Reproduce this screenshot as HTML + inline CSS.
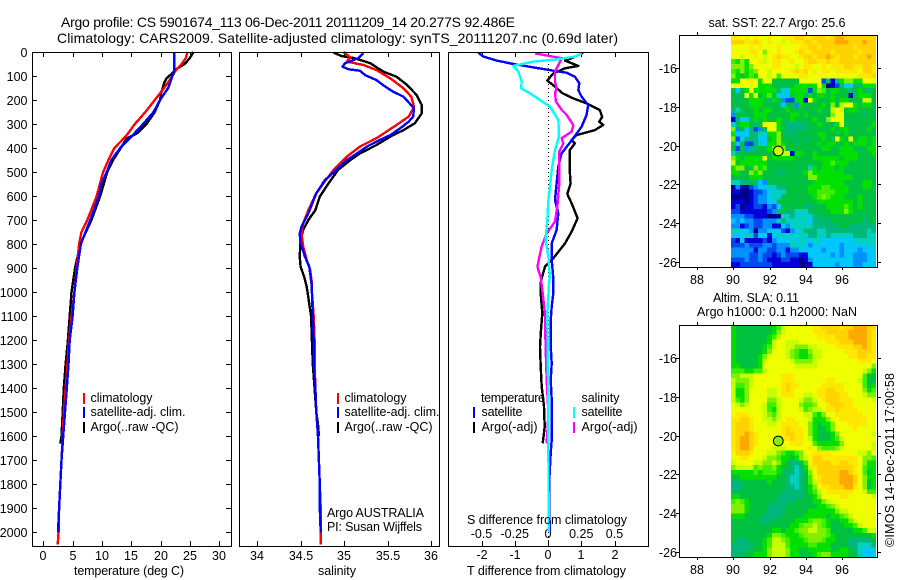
<!DOCTYPE html>
<html>
<head>
<meta charset="utf-8">
<title>Argo profile</title>
<style>
html,body{margin:0;padding:0;background:#fff;}
svg{display:block;}
text{font-family:"Liberation Sans",sans-serif;font-size:12.5px;fill:#000;}
.title{font-size:14px;}
</style>
</head>
<body>
<svg id="chart" xmlns="http://www.w3.org/2000/svg" width="900" height="580" viewBox="0 0 900 580">
  <rect x="0" y="0" width="900" height="580" fill="#fff"/>
  <text class="title" x="61" y="27" textLength="454">Argo profile: CS 5901674_113 06-Dec-2011 20111209_14 20.277S 92.486E</text>
  <text class="title" x="57" y="43" textLength="561">Climatology: CARS2009. Satellite-adjusted climatology: synTS_20111207.nc (0.69d later)</text>

  <g id="p1"></g>
  <g id="p2"></g>
  <g id="p3"></g>
  <g id="m1"></g>
  <g id="m2"></g>

  <text x="74" y="575" textLength="110">temperature (deg C)</text>
  <text x="318" y="575" textLength="38">salinity</text>
  <text x="467" y="575" textLength="159">T difference from climatology</text>
  <text x="467" y="524" textLength="160">S difference from climatology</text>

  <g>
    <rect x="83" y="393" width="2" height="11" fill="#f00"/>
    <rect x="83" y="407" width="2" height="11" fill="#00f"/>
    <rect x="83" y="422" width="2" height="11" fill="#000"/>
    <text x="90.5" y="402" textLength="62">climatology</text>
    <text x="90.5" y="416" textLength="95">satellite-adj. clim.</text>
    <text x="90.5" y="431" textLength="88">Argo(..raw -QC)</text>
  </g>
  <g>
    <rect x="337" y="393" width="2" height="11" fill="#f00"/>
    <rect x="337" y="407" width="2" height="11" fill="#00f"/>
    <rect x="337" y="422" width="2" height="11" fill="#000"/>
    <text x="344.5" y="402" textLength="62">climatology</text>
    <text x="344.5" y="416" textLength="95">satellite-adj. clim.</text>
    <text x="344.5" y="431" textLength="88">Argo(..raw -QC)</text>
    <text x="327" y="517" textLength="97">Argo AUSTRALIA</text>
    <text x="327" y="531" textLength="95">PI: Susan Wijffels</text>
  </g>
  <g>
    <text x="481" y="402" textLength="64">temperature</text>
    <rect x="473" y="407" width="2" height="11" fill="#00f"/>
    <rect x="473" y="422" width="2" height="11" fill="#000"/>
    <text x="481.5" y="416" textLength="41">satellite</text>
    <text x="481.5" y="431" textLength="56">Argo(-adj)</text>
    <text x="581.5" y="402" textLength="38">salinity</text>
    <rect x="573" y="407" width="2" height="11" fill="#0ff"/>
    <rect x="573" y="422" width="2" height="11" fill="#f0f"/>
    <text x="581.5" y="416" textLength="41">satellite</text>
    <text x="581.5" y="431" textLength="56">Argo(-adj)</text>
  </g>

  <text x="777" y="27" text-anchor="middle" textLength="137">sat. SST: 22.7  Argo: 25.6</text>
  <text x="756" y="302" text-anchor="middle" textLength="86">Altim. SLA: 0.11</text>
  <text x="777" y="316" text-anchor="middle" textLength="160">Argo h1000: 0.1 h2000: NaN</text>
  <text transform="translate(894,547) rotate(-90)" x="0" y="0" textLength="174">©IMOS 14-Dec-2011 17:00:58</text>
</svg>

<script>
// ---------- axis tick data ----------
const depthTicks = [0,100,200,300,400,500,600,700,800,900,1000,1100,1200,1300,1400,1500,1600,1700,1800,1900,2000];
const tempTicks = [0,5,10,15,20,25,30];
const salTicks = [34,34.5,35,35.5,36];
const tDiffTicks = [-2,-1,0,1,2];
const tDiffLabels = ['-2','-1','0','1','2'];
const sDiffTicks = [-0.5,-0.25,0,0.25,0.5];
const sDiffLabels = ['-0.5','-0.25','0','0.25','0.5'];
const lonTicks = [88,90,92,94,96];
const latTicks = [-16,-18,-20,-22,-24,-26];

// ---------- temperature profiles ----------
const tempClimDepth = [0,25,50,75,100,150,200,250,300,350,400,450,500,600,700,750,800,900,1000,1100,1200,1300,1400,1500,1600,1700,1800,1900,2000,2050];
const tempClim = [24.6,24.3,23.6,22.6,22.0,20.6,19.0,17.4,15.6,14.1,12.1,11.1,10.2,9.1,7.5,6.5,6.1,5.7,5.3,4.8,4.4,4.1,3.8,3.5,3.3,3.1,2.9,2.7,2.6,2.45];
const tempSatDepth = [0,80,100,150,200,250,300,350,400,450,500,550,600,700,800,900,1000,1100,1200,1300,1400,1500,1600,1700,1800,1900,2000];
const tempSat = [22.3,22.3,22.0,21.3,19.9,18.8,17.0,15.1,13.1,11.6,10.8,9.9,9.5,8.0,6.4,5.8,5.3,5.0,4.5,4.3,4.0,3.7,3.4,3.1,2.9,2.7,2.5];
const tempArgoDepth = [0,25,50,70,90,110,130,170,200,250,300,340,360,400,450,500,600,700,800,900,1000,1100,1200,1300,1400,1500,1600,1630];
const tempArgo = [25.6,25.0,24.1,22.7,21.9,21.0,20.6,20.1,19.9,19.0,17.6,15.9,14.2,13.2,11.9,10.9,9.7,8.2,6.3,5.4,4.8,4.5,4.2,3.8,3.5,3.3,3.1,2.9];

// ---------- salinity profiles ----------
const salClimDepth = [0,22,40,54,75,110,151,186,228,269,304,359,394,436,491,547,595,658,713,755,810,866,908,963,1000,1100,1200,1300,1400,1500,1600,1700,1800,1900,2000,2050];
const salClim = [34.99,35.07,35.03,35.22,35.37,35.53,35.68,35.77,35.80,35.74,35.60,35.37,35.18,35.03,34.88,34.76,34.67,34.59,34.53,34.51,34.53,34.57,34.61,34.63,34.63,34.65,34.66,34.66,34.67,34.68,34.70,34.71,34.72,34.73,34.73,34.73];
const salSatDepth = [4,26,47,61,72,78,96,117,144,165,186,214,235,269,290,318,346,366,394,429,450,491,533,588,672,727,755,797,852,894,977,1000,1100,1200,1300,1400,1500,1600,1700,1800,1900,2000];
const salSat = [35.22,35.16,35.01,34.98,35.05,35.18,35.24,35.37,35.47,35.56,35.68,35.75,35.80,35.79,35.74,35.64,35.53,35.41,35.26,35.12,35.03,34.91,34.78,34.68,34.59,34.51,34.49,34.50,34.55,34.60,34.63,34.63,34.64,34.65,34.65,34.67,34.68,34.70,34.71,34.72,34.72,34.73];
const salArgoDepth = [3,17,26,47,82,103,137,179,221,255,297,325,346,387,422,450,491,547,602,658,699,741,783,852,894,935,977,1000,1050,1100,1200,1300,1400,1500,1550,1600];
const salArgo = [34.88,34.97,35.12,35.30,35.45,35.60,35.72,35.83,35.89,35.89,35.81,35.68,35.56,35.37,35.18,35.07,34.93,34.82,34.72,34.67,34.59,34.53,34.50,34.49,34.50,34.54,34.57,34.58,34.60,34.62,34.63,34.64,34.66,34.68,34.70,34.71];

// ---------- difference profiles ----------
const dTSatDepth = [3,19,36,50,64,78,86,103,130,158,186,221,262,311,359,422,477,547,616,672,741,797,866,942,949,1005,1060,1116,1227,1296,1365,1449,1532,1615,1671,1782,1921,1997];
const dTSat = [-2.10,-1.94,-1.54,-1.04,-0.44,0.16,0.56,0.81,0.94,0.91,1.01,1.21,1.16,1.01,0.76,0.41,0.31,0.26,0.21,0.31,0.26,0.11,0.11,0.16,0.16,0.16,0.11,0.08,0.08,0.11,0.08,0.11,0.11,0.11,0.08,0.04,0.04,0.06];
const dTArgoDepth = [3,26,36,58,68,89,119,144,172,193,214,242,270,290,304,325,346,366,380,408,505,547,591,630,692,748,797,859,894,942,949,1005,1088,1157,1227,1310,1393,1476,1560,1629];
const dTArgo = [1.06,0.71,0.51,0.91,0.51,0.16,-0.02,0.21,0.44,0.76,1.16,1.56,1.63,1.54,1.66,1.41,0.86,0.71,0.81,0.66,0.66,0.68,0.58,0.71,0.89,0.71,0.51,0.16,-0.09,-0.19,-0.21,-0.22,-0.17,-0.21,-0.24,-0.22,-0.19,-0.12,-0.10,-0.16];
const dSArgoDepth = [6,17,26,54,82,123,151,172,207,241,262,304,332,359,380,415,547,644,706,755,810,894,942,949,1005,1088,1227,1365,1504,1629];
const dSArgo = [-0.098,0.015,0.103,0.078,0.053,0.053,0.065,0.053,0.060,0.103,0.140,0.190,0.178,0.103,0.115,0.085,0.085,0.070,0.053,-0.010,-0.048,-0.080,-0.053,-0.053,-0.040,-0.023,-0.018,-0.010,0.003,-0.010];
const dSSatDepth = [6,19,31,40,58,82,123,151,172,200,228,283,352,408,491,561,616,699,783,853,942,949,1088,1365,1643,1997];
const dSSat = [0.253,0.203,0.065,-0.110,-0.261,-0.223,-0.198,-0.203,-0.135,-0.060,0.015,0.078,0.083,0.053,0.028,0.015,0.003,-0.005,-0.018,0.003,0.015,0.010,-0.005,0,0.003,0.005];

// ---------- map data: colour level (0 = coldest/lowest .. 15 = warmest/highest), rows north to south ----------
const mapFirstLon = 90;
const mapFirstLat = -14.4;
const mapStep = 0.25;
const sstLevels = [
[13,13,12,13,12,13,12,12,13,12,12,13,13,13,14,14,13,13,14,14,14,13,14,15,15,14,14,14,14,14,14,14],
[14,14,14,13,13,14,13,12,13,12,12,11,12,13,13,13,14,14,13,14,14,14,14,15,15,15,14,14,14,15,14,14],
[12,12,12,12,13,12,13,12,12,12,13,12,12,12,12,13,13,14,14,13,14,14,14,14,14,14,14,13,14,14,14,14],
[12,12,12,12,13,13,12,10,12,12,13,12,12,12,13,14,13,13,14,14,14,14,13,14,14,14,14,14,13,14,14,14],
[12,12,11,12,12,13,12,11,12,13,14,13,13,12,12,13,14,14,13,14,14,15,14,13,14,14,14,13,14,14,15,14],
[9,8,10,8,12,12,13,11,12,13,13,12,12,13,12,12,13,14,14,13,13,14,13,13,14,14,14,14,14,14,14,14],
[10,10,10,8,10,12,12,12,12,13,13,12,12,12,11,12,13,13,12,12,13,12,13,13,13,14,14,13,13,14,14,13],
[9,8,10,8,9,10,12,12,11,12,12,12,12,13,14,13,14,12,13,12,13,13,12,13,13,13,13,13,12,14,14,13],
[10,8,7,8,9,8,12,12,11,12,9,12,12,12,12,13,13,12,12,12,12,12,12,12,12,12,12,12,13,13,13,14],
[8,8,12,12,13,12,8,12,12,7,7,7,7,7,7,12,12,12,12,12,2,6,1,6,8,10,10,8,8,12,12,12],
[12,12,13,12,12,12,8,8,8,7,7,7,7,7,8,8,8,8,8,12,8,0,1,2,6,4,4,7,6,8,8,8],
[7,4,7,8,12,8,8,8,8,8,6,5,4,8,8,8,8,2,8,10,9,7,8,8,7,7,6,7,8,7,6,7],
[7,7,7,12,8,12,7,8,9,7,4,4,4,7,8,8,7,8,7,8,8,7,8,7,7,7,1,7,8,8,8,7],
[7,6,7,7,8,8,8,7,6,8,7,3,2,2,8,8,1,12,8,7,7,7,8,7,8,8,7,7,7,11,11,7],
[7,7,7,7,8,8,8,7,7,7,6,4,7,7,3,8,7,7,7,7,8,7,10,7,11,12,12,8,7,8,8,7],
[6,5,7,7,7,8,7,8,8,7,7,7,8,7,7,7,7,7,7,8,7,7,11,12,11,7,8,8,7,7,7,7],
[3,7,7,7,7,8,8,8,7,7,7,7,7,8,8,7,8,7,7,7,7,7,10,12,12,7,7,7,7,6,7,7],
[1,6,4,4,7,8,7,8,7,7,8,7,7,8,7,7,7,7,8,7,7,10,12,12,12,7,7,7,7,7,7,7],
[5,6,8,8,7,6,7,12,12,12,8,7,6,6,6,6,6,7,7,8,7,7,7,8,12,7,7,7,7,7,7,8],
[10,3,7,4,6,2,3,7,12,12,8,7,6,6,6,6,6,7,7,7,7,7,8,7,8,8,7,7,7,7,8,7],
[8,4,4,4,6,6,5,5,8,8,10,7,6,6,7,7,7,7,7,8,8,7,7,7,7,8,7,7,7,7,7,7],
[10,2,4,6,6,6,4,4,7,8,10,7,7,7,6,7,6,7,7,7,8,7,7,12,8,7,12,7,8,8,7,8],
[7,4,7,2,2,6,5,4,8,8,10,8,7,7,7,7,7,7,7,8,7,8,8,7,7,8,7,8,8,8,7,8],
[7,2,7,3,6,6,7,7,8,10,10,10,7,7,7,7,7,7,7,7,8,8,7,7,8,8,8,7,7,7,8,8],
[5,6,7,7,7,7,7,7,7,7,11,11,11,1,8,8,7,7,8,7,7,7,7,7,8,8,8,8,7,7,7,8],
[10,8,7,8,8,8,8,12,7,8,8,8,8,8,7,7,7,7,8,8,8,8,8,8,7,8,8,8,7,7,7,7],
[11,7,8,8,8,8,8,8,7,7,7,7,7,7,7,7,7,7,7,7,8,8,9,8,8,8,7,7,7,7,7,7],
[8,10,10,7,7,10,8,9,7,7,7,7,7,7,7,7,7,5,8,7,8,8,8,7,8,7,7,7,7,7,7,7],
[8,8,7,7,10,8,10,7,7,7,6,6,7,7,7,7,8,10,8,8,8,8,8,8,8,7,7,7,7,7,7,7],
[7,7,7,7,8,8,8,7,7,7,7,7,7,7,7,7,7,10,10,8,8,8,8,8,8,8,8,7,7,7,7,7],
[5,5,6,6,7,6,4,3,7,6,7,7,7,7,7,7,7,7,8,8,8,8,8,8,8,7,7,7,7,8,8,7],
[0,3,1,0,2,3,4,4,5,5,6,6,7,7,7,7,7,8,8,8,9,9,8,8,8,8,7,7,7,8,8,7],
[1,1,0,0,1,2,2,3,4,5,5,5,7,7,7,7,7,8,8,9,9,9,9,8,8,8,7,7,7,7,7,7],
[0,0,0,0,1,2,3,3,4,5,5,7,7,7,7,7,7,7,8,9,10,9,8,8,8,7,7,7,8,7,7,7],
[1,1,1,0,1,2,3,3,4,4,7,7,7,7,7,7,7,7,7,8,8,8,8,8,8,8,8,7,8,7,7,7],
[1,2,0,1,1,2,2,1,3,2,4,7,7,7,7,7,6,6,7,7,7,8,8,8,8,9,8,7,8,7,7,7],
[2,2,1,1,1,1,1,1,2,3,6,7,6,6,5,5,5,6,7,7,7,7,8,8,8,10,8,7,7,7,7,7],
[3,3,3,2,2,1,1,1,0,0,0,5,5,6,5,5,5,5,6,6,7,7,7,7,7,7,7,7,7,6,7,7],
[4,3,4,3,3,2,2,3,3,3,5,6,5,5,5,5,5,4,6,6,6,6,7,7,7,7,7,7,7,6,7,7],
[3,3,1,2,3,2,2,3,3,1,1,4,3,5,5,5,5,5,6,6,6,6,6,6,7,7,6,6,6,6,6,6],
[5,5,4,4,3,0,3,3,4,4,4,2,1,3,4,5,6,6,6,5,5,6,6,6,6,6,6,6,6,6,5,6],
[4,4,4,5,5,2,4,4,1,4,5,5,5,5,5,5,5,6,6,5,5,6,5,5,5,5,5,6,6,6,5,5],
[2,1,4,1,1,1,1,2,1,3,4,4,4,5,4,5,5,4,5,5,4,4,4,4,4,4,4,5,5,5,5,5],
[2,2,2,3,2,2,2,3,3,2,3,3,3,5,5,5,4,3,4,4,4,4,4,4,3,4,4,4,4,4,5,5],
[3,3,3,3,3,1,3,3,2,2,3,3,1,3,3,4,4,4,4,4,3,4,4,4,3,4,4,4,3,4,4,4],
[3,3,3,3,2,2,3,2,2,1,2,3,2,2,2,1,1,4,4,4,4,4,3,4,3,4,4,3,3,3,4,4],
[2,2,2,3,2,2,3,2,1,1,1,2,2,1,1,0,1,3,4,4,4,4,4,4,4,4,4,3,3,3,4,4],
[1,1,2,2,2,2,2,2,2,1,1,1,1,1,1,0,0,1,4,4,4,4,4,3,4,4,4,3,3,4,4,4]
];
const slaLevels = [
[8,7,7,7,7,7,7,7,7,8,9,11,12,12,12,12,12,12,13,13,14,14,14,14,13,14,14,15,15,15,14,14],
[8,7,7,7,7,7,7,7,7,8,10,11,12,12,12,12,12,12,13,13,13,14,14,14,14,14,15,15,15,15,14,13],
[8,7,7,7,7,7,7,7,8,9,11,12,12,12,12,12,12,12,12,13,13,13,13,14,14,14,15,15,15,15,14,13],
[8,7,7,7,7,7,7,7,8,11,12,12,11,11,11,12,12,12,12,12,12,13,13,13,14,14,14,15,15,15,14,13],
[8,7,7,7,7,7,7,8,9,11,12,12,11,11,10,10,10,11,11,12,12,12,12,13,13,13,13,14,14,15,14,13],
[8,7,7,7,7,7,7,8,10,12,12,12,11,10,9,8,8,10,11,11,12,12,12,12,12,13,13,13,14,14,14,13],
[8,7,7,7,7,7,8,10,12,12,12,12,11,10,9,8,8,9,11,11,12,12,12,12,12,12,13,13,14,14,13,13],
[8,7,7,7,7,7,8,11,12,12,12,12,12,11,10,10,10,10,11,12,12,12,12,12,12,12,12,12,13,13,13,12],
[8,8,7,7,7,7,8,12,12,12,12,12,12,12,11,11,11,11,11,12,12,12,12,12,12,12,12,12,12,12,12,10],
[9,9,9,8,8,9,9,11,12,12,12,12,12,12,12,12,12,12,12,12,12,12,12,12,12,12,12,12,12,11,10,8],
[10,10,11,11,11,12,12,12,12,12,12,13,13,13,12,12,12,12,12,12,12,12,12,12,12,12,12,12,12,9,7,7],
[11,10,10,10,11,12,12,12,12,12,12,13,13,13,12,12,12,12,12,12,12,13,13,12,12,12,12,12,11,9,7,7],
[11,9,9,10,11,12,12,12,12,12,12,13,14,13,13,12,12,12,12,12,13,13,13,13,13,12,12,12,12,9,7,8],
[11,8,8,10,12,12,12,12,11,11,12,13,14,13,12,12,12,12,12,13,13,14,14,13,13,12,12,12,12,10,8,9],
[11,8,8,10,12,12,12,12,11,11,12,13,13,13,12,12,11,11,12,13,13,14,14,14,13,13,12,12,12,11,10,10],
[11,9,8,10,12,12,12,12,10,10,11,12,12,12,12,11,10,10,11,12,13,14,14,14,13,13,13,12,12,12,12,11],
[12,11,10,11,12,12,12,11,9,9,11,12,12,12,12,10,9,9,10,12,12,13,14,14,14,13,13,12,12,12,12,12],
[12,12,12,12,12,12,12,11,9,8,11,12,12,12,12,11,9,10,11,11,12,13,13,14,13,13,13,13,12,12,12,12],
[12,13,13,13,12,12,12,11,10,9,11,12,12,12,12,12,11,11,9,8,10,12,12,13,13,13,13,13,13,12,12,12],
[13,13,14,14,13,12,12,11,11,10,11,12,13,13,12,12,12,11,8,8,8,10,12,12,13,13,13,13,13,13,12,12],
[13,14,14,14,13,12,12,12,11,11,12,13,13,13,13,12,12,10,8,7,8,8,10,12,12,12,13,13,13,13,12,12],
[13,14,14,14,13,12,12,12,12,12,12,13,14,13,13,13,12,10,8,7,7,8,10,12,12,12,12,13,12,12,12,12],
[13,14,14,15,14,13,12,12,12,12,12,13,14,14,13,13,12,10,8,7,7,7,8,10,12,12,12,12,12,12,12,11],
[13,14,15,15,14,13,12,12,12,12,12,13,13,14,13,13,12,11,8,7,7,7,8,9,11,12,12,12,12,12,12,12],
[13,14,15,15,14,13,12,12,12,12,12,12,12,13,13,13,12,12,9,8,8,8,8,8,10,12,12,12,12,12,12,11],
[13,14,15,15,14,12,12,12,12,11,11,11,12,12,12,12,12,13,12,10,9,9,9,10,11,12,12,12,12,12,12,11],
[12,14,14,14,13,12,12,12,11,11,10,9,8,8,9,10,12,12,13,13,13,13,12,12,12,12,12,12,11,11,10,12],
[12,12,13,13,12,12,12,11,10,10,9,8,8,7,8,10,11,12,14,14,13,13,13,13,13,13,13,13,12,10,10,9],
[11,12,12,12,12,11,11,10,10,11,10,8,7,6,6,7,9,12,14,14,14,14,13,13,14,14,13,13,12,10,8,8],
[10,11,11,11,11,9,10,9,9,10,8,7,7,6,5,6,8,11,13,14,14,14,14,14,14,14,14,13,12,9,8,8],
[8,8,8,8,8,9,8,9,9,9,8,7,6,6,5,6,7,10,12,14,14,14,14,14,15,15,14,13,12,9,7,8],
[7,7,8,8,8,8,8,8,8,8,7,7,6,5,5,6,7,9,12,13,14,14,14,14,15,15,15,14,12,10,8,8],
[6,6,7,7,7,7,7,7,8,7,7,7,6,5,5,6,7,9,11,13,14,14,14,14,15,15,15,14,12,10,7,8],
[6,6,6,7,7,7,7,7,7,7,7,7,6,6,5,6,7,8,10,12,13,13,14,14,14,15,15,13,12,10,7,8],
[6,6,7,7,7,7,7,7,7,7,7,6,6,6,6,6,7,8,9,11,12,13,13,13,13,13,13,12,12,11,9,9],
[8,8,7,7,7,7,7,7,7,7,6,6,6,6,6,6,7,7,8,10,12,12,12,12,13,13,12,12,12,12,12,11],
[9,10,9,8,7,7,7,7,7,7,6,6,6,6,7,7,7,7,8,8,10,11,12,12,12,12,12,12,12,12,12,12],
[10,10,10,8,7,7,7,7,6,6,6,6,7,7,7,7,7,7,7,8,8,9,10,11,12,12,12,12,12,12,12,12],
[10,10,10,8,7,7,7,7,6,6,6,6,7,7,7,7,7,8,8,8,8,8,8,10,11,11,12,12,12,12,12,12],
[8,8,8,7,7,7,7,6,6,6,6,7,7,7,7,7,8,8,8,8,8,7,8,8,9,10,11,12,12,12,12,12],
[7,7,7,7,7,7,6,6,6,7,7,7,7,7,8,8,8,9,10,10,9,8,7,7,8,8,10,11,12,12,12,12],
[7,7,7,7,7,7,7,7,7,7,7,7,7,8,8,9,10,10,11,10,9,8,7,7,7,8,8,9,11,12,12,12],
[7,7,7,7,7,7,7,7,7,8,8,7,8,8,9,10,10,11,11,10,10,9,7,7,7,7,7,8,8,9,11,11],
[7,7,7,7,7,7,7,7,8,10,10,9,8,8,8,9,10,10,10,10,10,9,8,7,7,7,7,7,7,7,7,8],
[7,6,6,6,7,7,7,8,9,11,11,10,9,8,8,8,9,10,10,10,9,8,8,7,7,7,6,6,6,6,6,7],
[6,6,6,6,6,7,7,8,9,11,11,11,9,8,8,8,8,9,9,8,8,8,7,7,7,7,6,6,5,5,5,6],
[6,6,6,6,7,7,7,8,10,11,11,11,10,8,8,7,7,8,8,8,8,8,7,7,8,8,7,6,5,4,4,5],
[6,6,6,7,7,8,8,8,10,11,11,11,10,8,8,7,7,7,8,9,10,10,8,8,8,8,7,7,5,4,4,4]
];
const argoLon = 92.486;
const argoLat = -20.277;
const sstMarkerLevel = 11;
const slaMarkerLevel = 10;

// ---------- scales ----------
const NS = 'http://www.w3.org/2000/svg';
const PTOP = 52, PBOTTOM = 546;
const depthY = d => 52 + d * 0.2402;
const tempX = t => 43.3 + t * 5.866;
const salX = s => 257 + (s - 34) * 87.2;
const dTX = t => 548 + t * 33.25;
const dSX = s => 548 + s * 133;
const lonX = l => 733.3 + (l - 90) * 18.1;
const latY = (top, lat) => top + 33.3 + (-16 - lat) * 19.33;
const palette = ['#00008b','#0000d8','#0048f0','#0090ff','#00c8ff','#00d0c0','#00b878','#00c040','#00e000','#40ee00','#80f000','#c8ff00','#f0ff00','#ffe800','#ffd200','#ffa800'];

function node(parent, tag, attrs) {
  const el = document.createElementNS(NS, tag);
  for (const k in attrs) el.setAttribute(k, attrs[k]);
  parent.appendChild(el);
  return el;
}
function frame(g, x0, y0, x1, y1) {
  const el = node(g, 'rect', {x: x0 + 0.5, y: y0 + 0.5, width: x1 - x0, height: y1 - y0, fill: 'none', stroke: '#000', 'stroke-width': 1, 'shape-rendering': 'crispEdges'});
  
  
}
function tick(g, x1, y1, x2, y2) {
  const el = node(g, 'line', {x1: x1, y1: y1, x2: x2, y2: y2, stroke: '#000', 'stroke-width': 1, 'shape-rendering': 'crispEdges'});
  
  
}
function label(g, x, y, txt, anchor) {
  const el = node(g, 'text', {x: x, y: y, 'text-anchor': anchor});
  el.textContent = txt;
  
  
}
function profile(g, xs, depths, xScale, color, name) {
  const pts = xs.map((v, i) => xScale(v).toFixed(1) + ',' + depthY(depths[i]).toFixed(1)).join(' ');
  const el = node(g, 'polyline', {points: pts, fill: 'none', stroke: color, 'stroke-width': 2.4, 'stroke-linejoin': 'round', 'shape-rendering': 'crispEdges'});
  
  
}

// ---------- panel 1: temperature ----------
const p1 = document.getElementById('p1');
depthTicks.forEach(d => {
  const y = Math.round(depthY(d));
  tick(p1, 32, y + 0.5, 37, y + 0.5);
  tick(p1, 226, y + 0.5, 231, y + 0.5);
  label(p1, 27.5, y + 5, String(d), 'end');
});
tempTicks.forEach(t => {
  const x = Math.round(tempX(t));
  tick(p1, x + 0.5, PTOP, x + 0.5, PTOP + 5);
  tick(p1, x + 0.5, PBOTTOM - 5, x + 0.5, PBOTTOM);
  label(p1, x, 560, String(t), 'middle');
});
profile(p1, tempArgo, tempArgoDepth, tempX, '#000', 'temperature-argo-line');
profile(p1, tempClim, tempClimDepth, tempX, '#f00', 'temperature-climatology-line');
profile(p1, tempSat, tempSatDepth, tempX, '#00f', 'temperature-satellite-line');
frame(p1, 32, PTOP, 231, PBOTTOM);

// ---------- panel 2: salinity ----------
const p2 = document.getElementById('p2');
salTicks.forEach(s => {
  const x = Math.round(salX(s));
  tick(p2, x + 0.5, PTOP, x + 0.5, PTOP + 5);
  tick(p2, x + 0.5, PBOTTOM - 5, x + 0.5, PBOTTOM);
  label(p2, x, 560, String(s), 'middle');
});
profile(p2, salArgo, salArgoDepth, salX, '#000', 'salinity-argo-line');
profile(p2, salClim, salClimDepth, salX, '#f00', 'salinity-climatology-line');
profile(p2, salSat, salSatDepth, salX, '#00f', 'salinity-satellite-line');
frame(p2, 239, PTOP, 439, PBOTTOM);

// ---------- panel 3: differences ----------
const p3 = document.getElementById('p3');
const zeroLine = node(p3, 'line', {x1: dTX(0) + 0.5, y1: PTOP, x2: dTX(0) + 0.5, y2: PBOTTOM, stroke: '#000', 'stroke-width': 1, 'stroke-dasharray': '1 3', 'shape-rendering': 'crispEdges'});


tDiffTicks.forEach((t, i) => {
  const x = Math.round(dTX(t));
  tick(p3, x + 0.5, PTOP, x + 0.5, PTOP + 5);
  tick(p3, x + 0.5, PBOTTOM - 5, x + 0.5, PBOTTOM);
  label(p3, x, 559, tDiffLabels[i], 'middle');
});
sDiffTicks.forEach((s, i) => {
  label(p3, dSX(s), 538, sDiffLabels[i], 'middle');
});
profile(p3, dTArgo, dTArgoDepth, dTX, '#000', 't-difference-argo-line');
profile(p3, dTSat, dTSatDepth, dTX, '#00f', 't-difference-satellite-line');
profile(p3, dSArgo, dSArgoDepth, dSX, '#f0f', 's-difference-argo-line');
profile(p3, dSSat, dSSatDepth, dSX, '#0ff', 's-difference-satellite-line');
frame(p3, 448, PTOP, 648, PBOTTOM);

// ---------- maps ----------
function drawMap(g, levels, top, markerLevel, cellName) {
  const bottom = top + 232;
  levels.forEach((row, r) => {
    row.forEach((v, c) => {
      const lon = mapFirstLon + c * mapStep;
      const lat = mapFirstLat - r * mapStep;
      const x0 = lonX(lon - mapStep / 2);
      const x1 = lonX(lon + mapStep / 2);
      const y0 = latY(top, lat + mapStep / 2);
      const y1 = latY(top, lat - mapStep / 2);
      const el = node(g, 'rect', {x: x0.toFixed(2), y: y0.toFixed(2), width: (x1 - x0 + 0.4).toFixed(2), height: (y1 - y0 + 0.4).toFixed(2), fill: palette[Math.max(0, Math.min(15, Math.round(v)))], 'shape-rendering': 'crispEdges'});
      
      
    });
  });
  // mask overflow around the data area
  const maskR = node(g, 'rect', {x: 877.5, y: top - 3, width: 10, height: 238, fill: '#fff'});
  
  
  const maskT = node(g, 'rect', {x: 725, y: top - 4, width: 160, height: 4, fill: '#fff'});
  
  
  const maskB = node(g, 'rect', {x: 725, y: bottom + 1, width: 160, height: 4, fill: '#fff'});
  
  
  lonTicks.forEach(l => {
    const x = Math.round(lonX(l));
    tick(g, x + 0.5, top - 3, x + 0.5, top);
    tick(g, x + 0.5, bottom, x + 0.5, bottom + 3);
    label(g, x, bottom + 17, String(l), 'middle');
  });
  latTicks.forEach(lat => {
    const y = Math.round(latY(top, lat));
    tick(g, 676, y + 0.5, 679, y + 0.5);
    tick(g, 878, y + 0.5, 881, y + 0.5);
    label(g, 677, y + 5, String(lat), 'end');
  });
  const marker = node(g, 'circle', {cx: lonX(argoLon), cy: latY(top, argoLat), r: 4.9, fill: palette[markerLevel], stroke: '#000', 'stroke-width': 1});
  
  
  frame(g, 679, top, 877, bottom);
}
drawMap(document.getElementById('m1'), sstLevels, 35, sstMarkerLevel, 'sst-cell');
drawMap(document.getElementById('m2'), slaLevels, 325, slaMarkerLevel, 'sla-cell');
</script>
</body>
</html>
